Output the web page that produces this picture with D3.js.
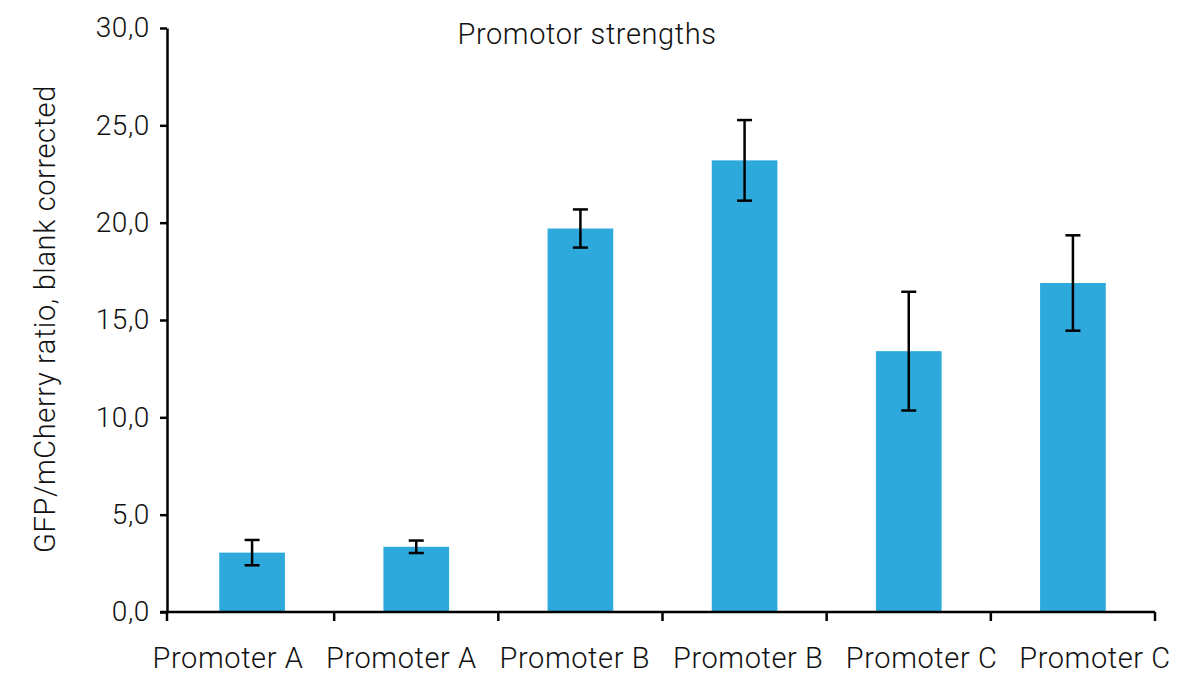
<!DOCTYPE html>
<html>
<head>
<meta charset="utf-8">
<script src="https://cdn.jsdelivr.net/npm/d3@7"></script>
<style>
  body { margin: 0; background: #fff; }
  text { font-family: Roboto, "DejaVu Sans", sans-serif; font-weight: 300; fill: #111; letter-spacing: 0.6px; }
</style>
</head>
<body>
<div id="chart"></div>
<script>
// data
var categories = ['Promoter A', 'Promoter A', 'Promoter B', 'Promoter B', 'Promoter C', 'Promoter C'];
var values = [3.05, 3.35, 19.7, 23.2, 13.4, 16.9];
var errors = [0.65, 0.32, 0.98, 2.07, 3.05, 2.45];
var yTicks = [0, 5, 10, 15, 20, 25, 30];

var width = 1200, height = 692;
var margin = {top: 28, right: 45, bottom: 80, left: 167};
var innerW = width - margin.left - margin.right;
var innerH = height - margin.top - margin.bottom;

var svg = d3.select('#chart').append('svg')
    .attr('width', width)
    .attr('height', height);

var g = svg.append('g')
    .attr('transform', 'translate(' + margin.left + ',' + margin.top + ')');

// category bands start a little right of the value axis
var x = d3.scaleBand()
    .domain(d3.range(categories.length))
    .range([3, innerW])
    .paddingInner(0.6)
    .paddingOuter(0.3);

// labels are spread slightly wider than the bands (as in the original)
var xLabel = d3.scalePoint()
    .domain(d3.range(categories.length))
    .range([61, 928]);

var y = d3.scaleLinear()
    .domain([0, 30])
    .range([innerH, 0]);

// bars
g.selectAll('rect.bar').data(values)
    .enter().append('rect')
    .attr('class', 'bar')
    .attr('x', function(d, i) { return x(i); })
    .attr('y', function(d) { return y(d); })
    .attr('width', x.bandwidth())
    .attr('height', function(d) { return innerH - y(d); })
    .attr('fill', '#2ea9dc');

// error bars
var capW = 15;
var eb = g.selectAll('g.err').data(values)
    .enter().append('g')
    .attr('class', 'err')
    .attr('stroke', '#000')
    .attr('stroke-width', 2.5);
eb.append('line')
    .attr('x1', function(d, i) { return x(i) + x.bandwidth() / 2; })
    .attr('x2', function(d, i) { return x(i) + x.bandwidth() / 2; })
    .attr('y1', function(d, i) { return y(d + errors[i]); })
    .attr('y2', function(d, i) { return y(d - errors[i]); });
eb.append('line')
    .attr('x1', function(d, i) { return x(i) + x.bandwidth() / 2 - capW / 2; })
    .attr('x2', function(d, i) { return x(i) + x.bandwidth() / 2 + capW / 2; })
    .attr('y1', function(d, i) { return y(d + errors[i]); })
    .attr('y2', function(d, i) { return y(d + errors[i]); });
eb.append('line')
    .attr('x1', function(d, i) { return x(i) + x.bandwidth() / 2 - capW / 2; })
    .attr('x2', function(d, i) { return x(i) + x.bandwidth() / 2 + capW / 2; })
    .attr('y1', function(d, i) { return y(d - errors[i]); })
    .attr('y2', function(d, i) { return y(d - errors[i]); });

// y axis
var yAxis = g.append('g')
    .attr('class', 'y axis')
    .call(d3.axisLeft(y)
        .tickValues(yTicks)
        .tickSize(7)
        .tickSizeOuter(0)
        .tickPadding(10)
        .tickFormat(function(d) { return d.toFixed(1).replace('.', ','); }));
yAxis.select('.domain').attr('stroke', '#000').attr('stroke-width', 2.5);
yAxis.selectAll('.tick line').attr('stroke', '#000').attr('stroke-width', 2.5);
yAxis.selectAll('.tick text')
    .style('font-family', 'Roboto, sans-serif')
    .style('font-weight', 300)
    .style('font-size', '28px')
    .attr('fill', '#111');

// x axis: line + boundary ticks + labels
var xAxis = g.append('g')
    .attr('class', 'x axis')
    .attr('transform', 'translate(0,' + innerH + ')');
xAxis.append('line')
    .attr('x1', -7).attr('x2', innerW)
    .attr('stroke', '#000').attr('stroke-width', 2.5);
var bounds = d3.range(categories.length + 1).map(function(i) {
    return i === 0 ? 0 : x.range()[0] + i * x.step();
});
xAxis.selectAll('line.tick').data(bounds)
    .enter().append('line')
    .attr('class', 'tick')
    .attr('x1', function(d) { return d; })
    .attr('x2', function(d) { return d; })
    .attr('y1', 0).attr('y2', 9)
    .attr('stroke', '#000').attr('stroke-width', 2.5);
xAxis.selectAll('text.label').data(categories)
    .enter().append('text')
    .attr('class', 'label')
    .attr('x', function(d, i) { return xLabel(i); })
    .attr('y', 56)
    .style('text-anchor', 'middle')
    .style('font-size', '29px')
    .text(function(d) { return d; });

// y axis title
g.append('text')
    .attr('transform', 'rotate(-90)')
    .attr('x', -(innerH / 2) + 1)
    .attr('y', -112)
    .style('text-anchor', 'middle')
    .style('font-size', '29px')
    .text('GFP/mCherry ratio, blank corrected');

// chart title
svg.append('text')
    .attr('x', 587)
    .attr('y', 44)
    .style('text-anchor', 'middle')
    .style('font-size', '29px')
    .text('Promotor strengths');
</script>
</body>
</html>
